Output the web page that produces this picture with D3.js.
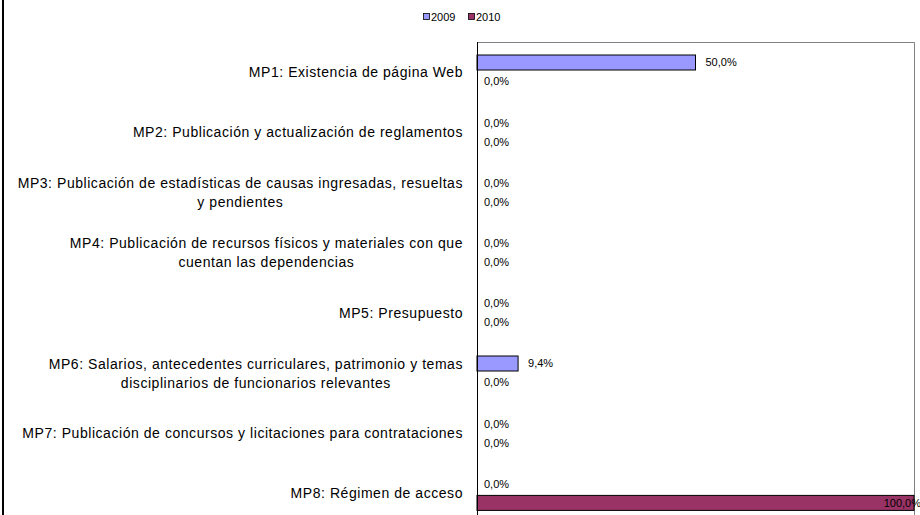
<!DOCTYPE html>
<html>
<head>
<meta charset="utf-8">
<script src="https://cdn.jsdelivr.net/npm/d3@7"></script>
<style>
  html, body { margin: 0; padding: 0; background: #fff; }
  svg { display: block; font-family: "Liberation Sans", Arial, sans-serif; }
</style>
</head>
<body>
<svg id="chart" width="920" height="515"></svg>
<script>
// ---- data ----
const categories = [
  "MP1: Existencia de página Web",
  "MP2: Publicación y actualización de reglamentos",
  "MP3: Publicación de estadísticas de causas ingresadas, resueltas\ny pendientes",
  "MP4: Publicación de recursos físicos y materiales con que\ncuentan las dependencias",
  "MP5: Presupuesto",
  "MP6: Salarios, antecedentes curriculares, patrimonio y temas\ndisciplinarios de funcionarios relevantes",
  "MP7: Publicación de concursos y licitaciones para contrataciones",
  "MP8: Régimen de acceso"
];
const seriesNames = ["2009", "2010"];
const values2009 = [0.50, 0.0, 0.0, 0.0, 0.0, 0.094, 0.0, 0.0];
const values2010 = [0.0, 0.0, 0.0, 0.0, 0.0, 0.0, 0.0, 1.0];
const seriesColors = ["#9999FF", "#993366"];

// ---- layout ----
const svg = d3.select("#chart");
const W = 920, H = 515;
const plot = { left: 477, right: 914, top: 42, step: 60.2 };
const plotBottom = plot.top + plot.step * categories.length;

svg.append("rect").attr("width", W).attr("height", H).attr("fill", "#fff");

const y = d3.scaleBand().domain(categories).range([plot.top, plotBottom]).padding(0);
const yInner = d3.scaleBand().domain(seriesNames).range([13, 47]).paddingInner(0.21);
const x = d3.scaleLinear().domain([0, 1]).range([plot.left, plot.right]);

const fmt = v => d3.format(".1f")(v * 100).replace(".", ",") + "%";

// chart area left border
svg.append("line").attr("x1", 3).attr("x2", 3).attr("y1", 0).attr("y2", H)
  .attr("stroke", "#000").attr("stroke-width", 2);

// plot area border (top & right gray)
svg.append("path")
  .attr("d", `M${plot.left},${plot.top + 0.5}H${plot.right + 0.5}V${plotBottom}`)
  .attr("fill", "none").attr("stroke", "#808080").attr("stroke-width", 1);

// bars
const data = [];
categories.forEach((c, i) => {
  data.push({ cat: c, s: "2009", v: values2009[i], color: seriesColors[0] });
  data.push({ cat: c, s: "2010", v: values2010[i], color: seriesColors[1] });
});

svg.append("g").selectAll("rect").data(data.filter(d => d.v > 0)).join("rect")
  .attr("x", x(0))
  .attr("y", d => y(d.cat) + yInner(d.s))
  .attr("width", d => x(d.v) - x(0))
  .attr("height", yInner.bandwidth())
  .attr("fill", d => d.color)
  .attr("stroke", "#000").attr("stroke-width", 1);

// category axis line
svg.append("line").attr("x1", plot.left + 0.5).attr("x2", plot.left + 0.5)
  .attr("y1", plot.top).attr("y2", plotBottom)
  .attr("stroke", "#000").attr("stroke-width", 1);

// value labels
svg.append("g").selectAll("text").data(data).join("text")
  .attr("x", d => d.v >= 1 ? x(d.v) + 7 : x(d.v) + (d.v > 0 ? 10 : 7))
  .attr("text-anchor", d => d.v >= 1 ? "end" : "start")
  .attr("y", d => y(d.cat) + yInner(d.s) + yInner.bandwidth() / 2)
  .attr("dy", "0.35em")
  .attr("font-size", 11)
  .attr("fill", "#000")
  .text(d => fmt(d.v));

// category labels
const lineH = 19;
const labelRight = 463;
const lg = svg.append("g");
categories.forEach(c => {
  const lines = c.split("\n");
  const cy = y(c) + y.bandwidth() / 2;
  const t = lg.append("text").attr("font-size", 14).attr("letter-spacing", 0.55)
    .attr("text-anchor", "middle").attr("fill", "#000");
  const spans = lines.map((ln, k) => t.append("tspan")
    .attr("y", cy + (k - (lines.length - 1) / 2) * lineH)
    .attr("dy", "0.35em").text(ln));
  const maxW = d3.max(spans, s => s.node().getComputedTextLength());
  spans.forEach(s => s.attr("x", labelRight - maxW / 2));
});

// legend
const legend = svg.append("g").attr("transform", "translate(423,13)");
const legX = d3.scaleOrdinal().domain(seriesNames).range([0, 45]);
seriesNames.forEach((s, i) => {
  const g = legend.append("g").attr("transform", `translate(${legX(s)},0)`);
  g.append("rect").attr("x", 0.5).attr("y", 0.5).attr("width", 6).attr("height", 6)
    .attr("fill", seriesColors[i]).attr("stroke", "#000").attr("stroke-width", 0.8);
  g.append("text").attr("x", 8).attr("y", 4).attr("dy", "0.35em")
    .attr("font-size", 11).text(s);
});
</script>
</body>
</html>
